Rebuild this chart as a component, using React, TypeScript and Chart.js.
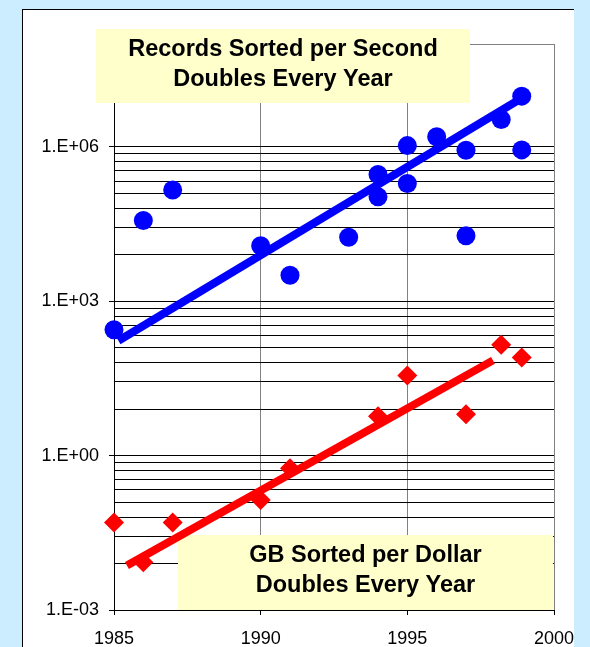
import React, { useEffect, useRef } from 'react';
import { Chart, registerables } from 'chart.js';

Chart.register(...registerables);

// ---- data ----
const recordsYears = [1985, 1986, 1987, 1990, 1991, 1993, 1994, 1994, 1995, 1995, 1996, 1997, 1997, 1998.2, 1998.9, 1998.9];
const recordsPerSecond = [280, 37000, 145000, 12000, 3200, 17500, 290000, 107000, 1060000, 194000, 1570000, 860000, 18800, 3400000, 9700000, 875000];
const gbYears = [1985, 1986, 1987, 1990, 1991, 1994, 1995, 1997, 1998.2, 1998.9];
const gbPerDollar = [0.05, 0.0085, 0.05, 0.138, 0.57, 5.8, 36, 6.4, 143, 81];
const recordsTrendYears = [1985.15, 1998.75];
const recordsTrendValues = [171, 7.9e6];
const gbTrendYears = [1985.44, 1997.92];
const gbTrendValues = [0.0073, 71];
const xTickValues = [1985, 1990, 1995, 2000];
const yTickValues = [1e-3, 1, 1e3, 1e6];
const yTickLabels = ['1.E-03', '1.E+00', '1.E+03', '1.E+06'];
const minorGridFactors = [8, 27, 64, 125, 216, 343, 512, 729];
const minorGridBases = [1e-3, 1, 1e3];
const titleTop = ['Records Sorted per Second', 'Doubles Every Year'];
const titleBottom = ['GB Sorted per Dollar', 'Doubles Every Year'];

const FONT = "'Liberation Sans', Arial, sans-serif";

const decoPlugin = {
  id: 'deco',
  beforeDatasetsDraw(chart: any) {
    const { ctx, chartArea: a, scales } = chart;
    const y = scales.y;
    ctx.save();
    // horizontal gridlines (major + cubic minor)
    const vals: number[] = [...yTickValues];
    minorGridBases.forEach((b) => minorGridFactors.forEach((f) => vals.push(b * f)));
    ctx.strokeStyle = '#000';
    ctx.lineWidth = 1;
    ctx.beginPath();
    vals.forEach((v) => {
      const py = Math.round(y.getPixelForValue(v) - 0.5) + 0.5;
      ctx.moveTo(a.left, py);
      ctx.lineTo(a.right, py);
    });
    ctx.stroke();
    // top and right border of plot area
    ctx.strokeStyle = '#808080';
    ctx.beginPath();
    const t = Math.round(a.top) + 0.5;
    const r = Math.round(a.right) + 0.5;
    ctx.moveTo(a.left, t);
    ctx.lineTo(r, t);
    ctx.lineTo(r, a.bottom);
    ctx.stroke();
    // annotation boxes
    const drawBox = (x0: number, y0: number, w: number, h: number, lines: string[], b1: number, b2: number) => {
      ctx.fillStyle = '#FFFFCC';
      ctx.fillRect(x0, y0, w, h);
      ctx.fillStyle = '#000';
      ctx.font = `bold 23.5px ${FONT}`;
      ctx.textAlign = 'center';
      ctx.textBaseline = 'alphabetic';
      ctx.fillText(lines[0], x0 + w / 2, b1);
      ctx.fillText(lines[1], x0 + w / 2, b2);
    };
    drawBox(96, 29, 374, 74, titleTop, 56, 86);
    drawBox(178, 535, 375, 75, titleBottom, 562, 592);
    ctx.restore();
  },
};

export default function App() {
  const ref = useRef<HTMLCanvasElement | null>(null);
  useEffect(() => {
    if (!ref.current) return;
    Chart.defaults.font.family = FONT;
    const chart = new Chart(ref.current, {
      type: 'scatter',
      data: {
        datasets: [
          {
            type: 'line',
            data: recordsTrendYears.map((x, i) => ({ x, y: recordsTrendValues[i] })),
            borderColor: '#0000FF',
            borderWidth: 8,
            borderCapStyle: 'butt',
            pointRadius: 0,
            fill: false,
            clip: false,
          } as any,
          {
            type: 'line',
            data: gbTrendYears.map((x, i) => ({ x, y: gbTrendValues[i] })),
            borderColor: '#FF0000',
            borderWidth: 8,
            borderCapStyle: 'butt',
            pointRadius: 0,
            fill: false,
            clip: false,
          } as any,
          {
            data: recordsYears.map((x, i) => ({ x, y: recordsPerSecond[i] })),
            backgroundColor: '#0000FF',
            borderWidth: 0,
            pointStyle: 'circle',
            pointRadius: 9.5,
            clip: false,
          } as any,
          {
            data: gbYears.map((x, i) => ({ x, y: gbPerDollar[i] })),
            backgroundColor: '#FF0000',
            borderWidth: 0,
            pointStyle: 'rectRot',
            pointRadius: 10,
            clip: false,
          } as any,
        ],
      },
      options: {
        animation: false,
        responsive: false,
        devicePixelRatio: 1,
        events: [],
        layout: { padding: { left: 0, top: 44, right: 66, bottom: 10 } },
        plugins: { legend: { display: false }, tooltip: { enabled: false } },
        scales: {
          x: {
            type: 'linear',
            min: 1985,
            max: 2000,
            afterBuildTicks: (s: any) => {
              s.ticks = xTickValues.map((v) => ({ value: v }));
            },
            afterFit: (s: any) => {
              s.height = 40;
            },
            ticks: {
              autoSkip: false,
              maxRotation: 0,
              font: { size: 18 },
              color: '#000',
              padding: 13,
              callback: (v: any) => String(v),
            },
            grid: { color: '#808080', tickColor: '#000', tickLength: 5, lineWidth: 1 },
            border: { color: '#000', width: 1 },
          },
          y: {
            type: 'logarithmic',
            min: 1e-3,
            max: 1e8,
            afterBuildTicks: (s: any) => {
              s.ticks = yTickValues.map((v) => ({ value: v }));
            },
            afterFit: (s: any) => {
              s.width = 114;
            },
            ticks: {
              autoSkip: false,
              font: { size: 18 },
              color: '#000',
              padding: 10,
              callback: (_v: any, i: number) => yTickLabels[i],
            },
            grid: { drawOnChartArea: false, tickColor: '#000', tickLength: 5 },
            border: { color: '#000', width: 1 },
          },
        },
      } as any,
      plugins: [decoPlugin],
    });
    return () => chart.destroy();
  }, []);

  return (
    <div style={{ position: 'fixed', left: 0, top: 0, width: 590, height: 647, background: '#CCECFF', overflow: 'hidden' }}>
      <div
        style={{
          position: 'absolute',
          left: 22,
          top: 9,
          width: 552,
          height: 700,
          background: '#fff',
          borderTop: '1px solid #000',
          borderLeft: '1px solid #000',
          boxSizing: 'border-box',
        }}
      />
      <div style={{ position: 'absolute', left: 0, top: 0, width: 574, height: 647, overflow: 'hidden' }}>
        <canvas ref={ref} width={620} height={660} style={{ width: 620, height: 660, display: 'block' }} />
      </div>
    </div>
  );
}
